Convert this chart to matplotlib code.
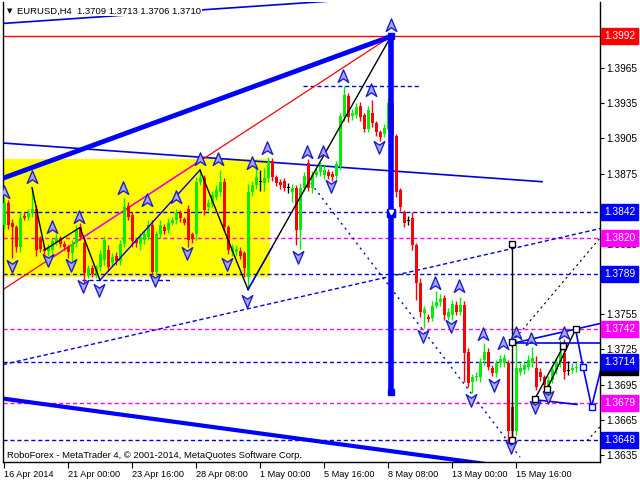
import numpy as np
import matplotlib
matplotlib.use("Agg")
import matplotlib.pyplot as plt
from matplotlib.path import Path
from matplotlib.patches import Rectangle
import matplotlib.transforms as mtransforms

plt.rcParams['font.family'] = ['Liberation Sans', 'DejaVu Sans']

# ---------------- data (EURUSD H4 candles) ----------------
opens = [1.3831,1.3850,1.3833,1.3829,1.3812,1.3839,1.3838,1.3841,1.3845,1.3819,
         1.3811,1.3809,1.3810,1.3816,1.3819,1.3815,1.3812,1.3807,1.3816,1.3829,
         1.3816,1.3788,1.3794,1.3789,1.3795,1.3801,1.3810,1.3799,1.3805,1.3800,
         1.3815,1.3847,1.3840,1.3818,1.3815,1.3818,1.3821,1.3831,1.3791,1.3823,
         1.3829,1.3827,1.3833,1.3835,1.3841,1.3836,1.3845,1.3823,1.3823,1.3868,
         1.3871,1.3846,1.3849,1.3855,1.3859,1.3868,1.3829,1.3808,1.3808,1.3809,
         1.3807,1.3787,1.3859,1.3865,1.3868,1.3867,1.3871,1.3886,1.3872,1.3868,
         1.3869,1.3863,1.3859,1.3863,1.3827,1.3863,1.3884,1.3863,1.3874,1.3876,
         1.3874,1.3876,1.3875,1.3873,1.3881,1.3923,1.3941,1.3924,1.3925,1.3933,
         1.3925,1.3913,1.3927,1.3918,1.3910,1.3909,1.3913,1.3935,1.3907,1.3861,
         1.3842,1.3835,1.3837,1.3814,1.3782,1.3756,1.3753,1.3752,1.3762,1.3765,
         1.3769,1.3753,1.3754,1.3763,1.3757,1.3763,1.3723,1.3697,1.3701,1.3701,
         1.3716,1.3723,1.3709,1.3705,1.3713,1.3713,1.3713,1.3676,1.3655,1.3706,
         1.3707,1.3710,1.3713,1.3709,1.3706,1.3701,1.3690,1.3699,1.3707,1.3713,
         1.3722,1.3707,1.3707,1.3709]
highs = [1.3855,1.3852,1.3836,1.3831,1.3842,1.3842,1.3845,1.3863,1.3848,1.3822,
         1.3814,1.3815,1.3820,1.3823,1.3822,1.3817,1.3814,1.3818,1.3831,1.3833,
         1.3820,1.3797,1.3797,1.3797,1.3810,1.3822,1.3814,1.3807,1.3808,1.3818,
         1.3854,1.3851,1.3842,1.3820,1.3824,1.3826,1.3835,1.3835,1.3826,1.3835,
         1.3832,1.3837,1.3838,1.3845,1.3844,1.3838,1.3848,1.3825,1.3872,1.3878,
         1.3874,1.3853,1.3860,1.3865,1.3878,1.3871,1.3831,1.3815,1.3814,1.3812,
         1.3809,1.3866,1.3869,1.3882,1.3878,1.3880,1.3889,1.3888,1.3874,1.3870,
         1.3871,1.3867,1.3866,1.3865,1.3867,1.3876,1.3887,1.3877,1.3880,1.3885,
         1.3882,1.3879,1.3877,1.3886,1.3927,1.3950,1.3944,1.3930,1.3935,1.3936,
         1.3927,1.3933,1.3938,1.3920,1.3912,1.3917,1.3939,1.3938,1.3909,1.3863,
         1.3844,1.3839,1.3842,1.3816,1.3786,1.3762,1.3755,1.3766,1.3775,1.3772,
         1.3771,1.3760,1.3767,1.3766,1.3770,1.3766,1.3726,1.3704,1.3706,1.3718,
         1.3730,1.3726,1.3712,1.3716,1.3720,1.3721,1.3716,1.3680,1.3734,1.3713,
         1.3715,1.3720,1.3727,1.3719,1.3709,1.3703,1.3702,1.3711,1.3718,1.3733,
         1.3734,1.3715,1.3713,1.3713]
lows = [1.3828,1.3828,1.3803,1.3808,1.3808,1.3835,1.3835,1.3838,1.3805,1.3808,
        1.3806,1.3805,1.3807,1.3814,1.3812,1.3810,1.3803,1.3800,1.3812,1.3818,
        1.3782,1.3786,1.3787,1.3786,1.3792,1.3797,1.3792,1.3796,1.3797,1.3797,
        1.3812,1.3835,1.3812,1.3812,1.3810,1.3815,1.3818,1.3788,1.3788,1.3820,
        1.3823,1.3824,1.3831,1.3832,1.3834,1.3831,1.3812,1.3816,1.3818,1.3865,
        1.3840,1.3843,1.3846,1.3852,1.3856,1.3826,1.3806,1.3805,1.3805,1.3802,
        1.3787,1.3776,1.3856,1.3862,1.3860,1.3860,1.3868,1.3869,1.3864,1.3862,
        1.3860,1.3858,1.3851,1.3814,1.3811,1.3860,1.3860,1.3858,1.3872,1.3873,
        1.3870,1.3870,1.3869,1.3870,1.3878,1.3920,1.3919,1.3921,1.3922,1.3920,
        1.3910,1.3910,1.3915,1.3907,1.3903,1.3906,1.3910,1.3904,1.3855,1.3843,
        1.3829,1.3831,1.3810,1.3767,1.3753,1.3743,1.3748,1.3749,1.3760,1.3762,
        1.3750,1.3750,1.3750,1.3754,1.3754,1.3697,1.3693,1.3688,1.3698,1.3697,
        1.3712,1.3707,1.3702,1.3701,1.3710,1.3710,1.3646,1.3650,1.3652,1.3703,
        1.3704,1.3707,1.3710,1.3690,1.3698,1.3692,1.3686,1.3696,1.3704,1.3710,
        1.3700,1.3703,1.3705,1.3706]
closes = [1.3850,1.3831,1.3829,1.3812,1.3837,1.3837,1.3841,1.3845,1.3810,1.3811,
          1.3809,1.3812,1.3817,1.3820,1.3815,1.3812,1.3808,1.3815,1.3827,1.3821,
          1.3790,1.3794,1.3789,1.3795,1.3806,1.3818,1.3795,1.3804,1.3800,1.3815,
          1.3846,1.3838,1.3817,1.3816,1.3821,1.3823,1.3831,1.3791,1.3823,1.3831,
          1.3826,1.3833,1.3835,1.3841,1.3837,1.3833,1.3818,1.3819,1.3868,1.3871,
          1.3844,1.3850,1.3857,1.3861,1.3868,1.3829,1.3810,1.3812,1.3811,1.3805,
          1.3794,1.3859,1.3865,1.3872,1.3868,1.3871,1.3885,1.3872,1.3867,1.3865,
          1.3863,1.3863,1.3863,1.3827,1.3863,1.3873,1.3863,1.3874,1.3876,1.3881,
          1.3878,1.3873,1.3872,1.3883,1.3924,1.3942,1.3923,1.3927,1.3932,1.3923,
          1.3913,1.3929,1.3918,1.3910,1.3906,1.3914,1.3935,1.3907,1.3859,1.3846,
          1.3833,1.3835,1.3814,1.3782,1.3757,1.3759,1.3751,1.3762,1.3765,1.3768,
          1.3754,1.3757,1.3764,1.3757,1.3763,1.3722,1.3696,1.3701,1.3702,1.3714,
          1.3723,1.3710,1.3705,1.3713,1.3717,1.3718,1.3655,1.3655,1.3709,1.3709,
          1.3712,1.3716,1.3718,1.3693,1.3701,1.3695,1.3699,1.3707,1.3714,1.3723,
          1.3706,1.3707,1.3709,1.3710]

date_ticks = [0, 16, 32, 48, 64, 80, 96, 112, 128]
date_labels = ["16 Apr 2014", "21 Apr 00:00", "23 Apr 16:00", "28 Apr 08:00",
               "1 May 00:00", "5 May 16:00", "8 May 08:00", "13 May 00:00",
               "15 May 16:00"]
price_ticks = [1.3965, 1.3935, 1.3905, 1.3875, 1.3845, 1.3815, 1.3785,
               1.3755, 1.3725, 1.3695, 1.3665, 1.3635]

# horizontal levels (price, colour)
levels = [1.3842, 1.3820, 1.3789, 1.3742, 1.3714, 1.3679, 1.3648]
level_colors = ["#0000E0", "#FF00FF", "#0000E0", "#FF00FF", "#0000E0", "#FF00FF", "#0000E0"]
high_level = 1.3992
current_price = 1.3710

# fractal arrows (bar index, price)
up_arrows_x = [0, 7, 12, 18.75, 29.75, 35.75, 43, 49, 53.5, 62, 65.75, 75.75, 79.75,
               84.75, 91.75, 96.75, 107.75, 113.75, 119.75, 124.75, 128, 131.75, 140]
up_arrows_y = [1.3859, 1.3872, 1.3829, 1.3838, 1.3863, 1.3852, 1.3855, 1.3887, 1.3887,
               1.3884, 1.3897, 1.3893, 1.3893, 1.3958, 1.3946, 1.4002, 1.3782, 1.3779,
               1.3738, 1.3730, 1.3739, 1.3734, 1.3739]
dn_arrows_x = [2, 11, 16.75, 19.75, 23.75, 37.75, 45.75, 55.75, 60.75, 73.5, 81.75,
               93.75, 104.75, 111.75, 116.75, 122.5, 126.75, 132.75, 136]
dn_arrows_y = [1.3796, 1.3801, 1.3797, 1.3779, 1.3776, 1.3784, 1.3807, 1.3798, 1.3766,
               1.3804, 1.3864, 1.3898, 1.3736, 1.3745, 1.3682, 1.3695, 1.3642, 1.3676,
               1.3684]

# ---------------- figure ----------------
fig = plt.figure(figsize=(6.4, 4.8), dpi=100)
fig.patch.set_facecolor("white")
ax = fig.add_axes([3/640, 18/480, 597/640, 460/480])
ax.set_xlim(-0.25, 149)
ax.set_ylim(1.36289, 1.40213)

FS = 7
# yellow zone
ax.add_patch(Rectangle((-0.25, 1.3787), 66.85, 1.3887 - 1.3787, facecolor="#FFFF00",
                       edgecolor="none", zorder=0))

dash = (0, (3, 2))
for lv, col in zip(levels, level_colors):
    ax.axhline(lv, color=col, lw=1, linestyle=dash, zorder=1)
ax.axhline(high_level, color="#FF0000", lw=1, zorder=1)
# short dashed
ax.plot([74.75, 104], [1.3950, 1.3950], color="#0000E0", lw=1, linestyle=dash, zorder=1)
ax.plot([19.5, 42], [1.3784, 1.3784], color="#0000E0", lw=1, linestyle=dash, zorder=1)

# diagonal dashed / dotted lines
ax.plot([-0.25, 149], [1.3712, 1.3828], color="#0000E0", lw=1, linestyle=dash, zorder=1)
ax.plot([75.75, 129], [1.3871, 1.3633], color="#0000E0", lw=1, linestyle=(0, (1.5, 3)), zorder=1)
ax.plot([127, 149], [1.3731, 1.3820], color="black", lw=0.8, linestyle=(0, (2, 3)), zorder=1)
ax.plot([145.75, 149], [1.3647, 1.3659], color="black", lw=0.8, linestyle=(0, (2, 3)), zorder=1)

# trend lines
ax.plot([-0.25, 134.5], [1.3901, 1.3868], color="#0000E0", lw=1.2, zorder=2)
ax.plot([-0.25, 96.75], [1.4003, 1.40256], color="#0000E0", lw=1.2, zorder=2)
ax.plot([-0.25, 149], [1.3683, 1.3614], color="#0000FF", lw=3, zorder=2)
ax.plot([-0.25, 96.75], [1.3776, 1.3992], color="#FF0000", lw=0.9, zorder=2)
ax.plot([11, 49], [1.38009, 1.38860], color="#FF00FF", lw=1, zorder=2)

# candles
x = np.arange(len(opens))
o = np.array(opens); h = np.array(highs); l = np.array(lows); c = np.array(closes)
cols = np.where(c > o, "#00EE00", np.where(c < o, "#FF0000", "#000000"))
ax.vlines(x, l, h, colors=cols, lw=1, zorder=3)
bot = np.minimum(o, c)
ht = np.maximum(np.abs(c - o), 0.00009)
ax.bar(x, ht, bottom=bot - np.where(c == o, 0.000045, 0), width=0.75, color=cols,
       linewidth=0, zorder=3)

# zigzags
ax.plot([7, 10.25, 19, 24], [1.3863, 1.3810, 1.3829, 1.3784], color="black", lw=1, zorder=4)
ax.plot([24, 49], [1.3784, 1.3878], color="#0000E0", lw=1, zorder=4)
ax.plot([49, 61], [1.3878, 1.3776], color="black", lw=1, zorder=4)
ax.plot([61, 96.75], [1.3776, 1.3992], color="black", lw=1, zorder=4)
ax.plot([61, 67], [1.3776, 1.3812], color="#0000E0", lw=1, zorder=4)

# thick rising line and vertical
ax.plot([-0.25, 96.75], [1.3871, 1.3992], color="#0000FF", lw=3.5, zorder=5,
        solid_capstyle="butt")
ax.plot([96.75, 96.75], [1.3992, 1.3689], color="#0000FF", lw=4, zorder=5)
ax.plot([96.75, 96.75], [1.3992, 1.3689], ls="none", marker="s", ms=5, color="#0000FF", zorder=6)
ax.plot([96.75], [1.3841], ls="none", marker="s", ms=6, mfc="#0000FF", mec="#0000FF", zorder=6)
ax.plot([96.75], [1.3842], ls="none", marker="v", ms=3, color="white", zorder=7)

# black verticals & zigzags on right
ax.plot([127, 127], [1.3815, 1.3648], color="black", lw=1, zorder=5)
ax.plot([132.75, 139.75], [1.3683, 1.3727], color="black", lw=1, zorder=5)
ax.plot([135.75, 142.9], [1.3691, 1.3742], color="black", lw=1, zorder=5)
ax.plot([127, 127, 127, 132.75, 135.75, 139.75, 142.9],
        [1.3815, 1.3731, 1.3648, 1.3683, 1.3691, 1.3728, 1.3742],
        ls="none", marker="s", ms=4.5, mfc="white", mec="black", mew=1, zorder=6)

# blue forecast lines
ax.plot([127, 149], [1.3730, 1.3730], color="#0000FF", lw=1.2, zorder=5)
ax.plot([127, 149], [1.3730, 1.3747], color="#0000FF", lw=1.2, zorder=5)
ax.plot([132.75, 143.25], [1.3682, 1.3678], color="#0000FF", lw=1.2, zorder=5)
ax.plot([142.9, 144.75, 146.9, 149.5], [1.3742, 1.3710, 1.3676, 1.3712],
        color="#0000FF", lw=1.2, zorder=5)
ax.plot([144.75, 146.9], [1.3710, 1.3676], ls="none", marker="s", ms=4.5,
        mfc="white", mec="#0000FF", zorder=6)

# fractal arrow markers
up_path = Path([(0, 1), (0.8, -0.9), (0, -0.35), (-0.8, -0.9), (0, 1)],
               [Path.MOVETO, Path.LINETO, Path.LINETO, Path.LINETO, Path.CLOSEPOLY])
dn_path = Path([(0, -1), (0.8, 0.9), (0, 0.35), (-0.8, 0.9), (0, -1)],
               [Path.MOVETO, Path.LINETO, Path.LINETO, Path.LINETO, Path.CLOSEPOLY])
ax.plot(up_arrows_x, up_arrows_y, ls="none", marker=up_path, ms=9.5,
        mfc="#A8A8FF", mec="#1E1EC8", mew=1, zorder=7)
ax.plot(dn_arrows_x, dn_arrows_y, ls="none", marker=dn_path, ms=9.5,
        mfc="#A8A8FF", mec="#1E1EC8", mew=1, zorder=7)

# axes styling
ax.spines["top"].set_visible(False)
for s in ["left", "right", "bottom"]:
    ax.spines[s].set_color("black")
    ax.spines[s].set_linewidth(1)
ax.yaxis.tick_right()
ax.set_yticks(price_ticks)
ax.set_yticklabels([f"{p:.4f}" for p in price_ticks])
ax.set_xticks(date_ticks)
ax.set_xticklabels(date_labels, ha="left")
ax.tick_params(axis="y", direction="out", length=3, pad=1.5, labelsize=7.3, colors="black")
ax.tick_params(axis="x", direction="out", length=4, pad=2, labelsize=6.6, colors="black")
for lab in ax.get_xticklabels():
    lab.set_horizontalalignment("left")

# coloured price labels on right axis
trans = mtransforms.blended_transform_factory(ax.transAxes, ax.transData)
def price_label(p, fc):
    ax.text(1.0067, p, f"{p:.4f}", transform=trans, ha="left", va="center", fontsize=7.3,
            color="white", clip_on=False, zorder=10,
            bbox=dict(boxstyle="square,pad=0.3", fc=fc, ec=fc))
price_label(current_price, "black")
for lv, col in zip(levels, level_colors):
    price_label(lv, "#0000FF" if col != "#FF00FF" else "#FF00FF")
price_label(high_level, "#FF0000")

# header & footer
fig.text(7/640, 1 - 11/480, "\u25BC", fontsize=5, va="center", ha="left", color="black",
         family="DejaVu Sans")
fig.text(17/640, 1 - 11/480, "EURUSD,H4  1.3709 1.3713 1.3706 1.3710", fontsize=6.8,
         va="center", ha="left", color="black",
         bbox=dict(boxstyle="square,pad=0.1", fc="white", ec="none"), zorder=20)
ax.text(0.007, 1 - (455 - 2) / 460, "RoboForex - MetaTrader 4, \u00a9 2001-2014, MetaQuotes Software Corp.",
        transform=ax.transAxes, fontsize=6.8, va="center", ha="left", color="black", zorder=20)

fig.savefig("out.png", dpi=100)
